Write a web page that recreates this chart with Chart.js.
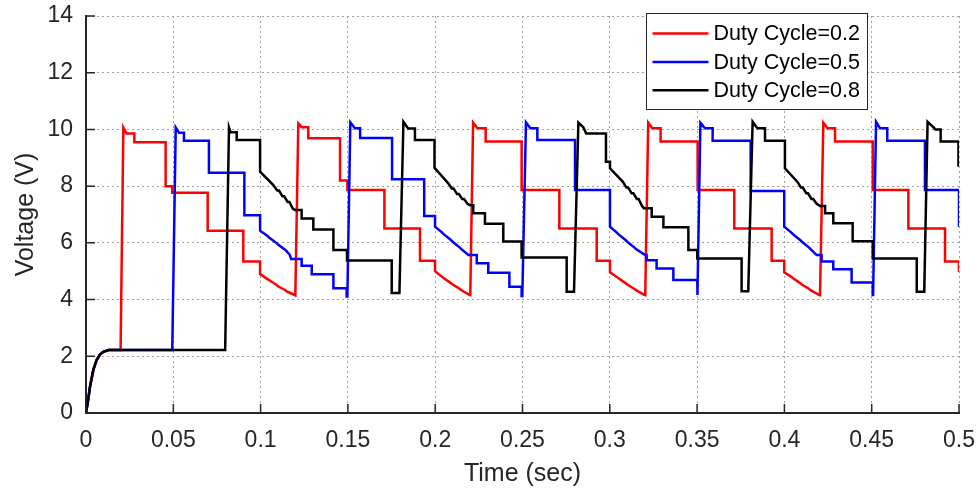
<!DOCTYPE html>
<html>
<head>
<meta charset="utf-8">
<script src="https://cdn.jsdelivr.net/npm/chart.js@4.4.1/dist/chart.umd.min.js"></script>
<style>
  html, body { margin: 0; padding: 0; background: #fff; }
  canvas { display: block; }
</style>
</head>
<body>
<canvas id="myChart" width="977" height="493"></canvas>
<script>
// axes
const xTicks = [0, 0.05, 0.1, 0.15, 0.2, 0.25, 0.3, 0.35, 0.4, 0.45, 0.5];
const yTicks = [0, 2, 4, 6, 8, 10, 12, 14];
const seriesLabels = ['Duty Cycle=0.2', 'Duty Cycle=0.5', 'Duty Cycle=0.8'];
const seriesColors = ['#ff0000', '#0000ff', '#000000'];

// common start-up charge (time s, voltage V)
const startUp = [[0,0],[0.0012,0.45],[0.0023,0.93],[0.0042,1.52],[0.0061,1.87],[0.008,2.06],[0.0099,2.16],[0.013,2.22]];

// duty cycle 0.2
const duty02 = [
  [0.0198,2.22],[0.0214,10.07],[0.0232,9.86],[0.0277,9.86],[0.0277,9.55],[0.0456,9.55],[0.0456,8.0],[0.0494,8.0],[0.0494,7.77],
  [0.0697,7.77],[0.0697,6.43],[0.0901,6.43],[0.0901,5.34],[0.0997,5.34],[0.0997,4.9],
  [0.104,4.72],[0.105,4.68],[0.109,4.52],[0.110,4.47],[0.114,4.34],[0.115,4.29],[0.1192,4.17],
  [0.1199,4.15],[0.1216,10.21],[0.1235,10.08],[0.1273,10.08],[0.1273,9.69],[0.1455,9.69],[0.1455,8.2],[0.1497,8.2],[0.1497,7.86],
  [0.1709,7.86],[0.1709,6.51],[0.1913,6.51],[0.1913,5.37],[0.1999,5.37],[0.1999,5.0],
  [0.204,4.8],[0.205,4.75],[0.209,4.58],[0.210,4.53],[0.214,4.38],[0.215,4.33],[0.2196,4.17],
  [0.2201,4.16],[0.2217,10.24],[0.2242,10.04],[0.2289,10.04],[0.2289,9.57],[0.2495,9.57],[0.2495,7.86],[0.2711,7.86],[0.2711,6.51],
  [0.2925,6.51],[0.2925,5.37],[0.3001,5.37],[0.3001,4.96],
  [0.304,4.8],[0.305,4.75],[0.309,4.58],[0.310,4.53],[0.314,4.38],[0.315,4.33],[0.3197,4.17],
  [0.3203,4.16],[0.322,10.24],[0.3243,10.04],[0.3291,10.04],[0.3291,9.57],[0.3503,9.57],[0.3503,7.86],[0.3713,7.86],[0.3713,6.51],
  [0.3927,6.51],[0.3927,5.37],[0.3999,5.37],[0.3999,4.96],
  [0.404,4.8],[0.405,4.75],[0.409,4.58],[0.410,4.53],[0.414,4.38],[0.415,4.33],[0.4198,4.17],
  [0.4204,4.16],[0.4223,10.24],[0.4247,10.04],[0.429,10.04],[0.429,9.57],[0.4506,9.57],[0.4506,7.86],[0.471,7.86],[0.471,6.51],
  [0.492,6.51],[0.492,5.34],[0.5,5.34],[0.5,4.96]
];

// duty cycle 0.5
const duty05 = [
  [0.0494,2.22],[0.0514,10.07],[0.0533,9.88],[0.0561,9.88],[0.0561,9.6],[0.0704,9.6],[0.0704,8.47],[0.0907,8.47],[0.0907,6.97],
  [0.0997,6.97],[0.0997,6.43],
  [0.104,6.24],[0.105,6.18],[0.109,6.0],[0.110,5.94],[0.114,5.76],[0.115,5.7],[0.1168,5.57],[0.1175,5.43],[0.1235,5.43],
  [0.1235,5.19],[0.1293,5.19],[0.1293,4.89],[0.1417,4.89],[0.1417,4.40],[0.1493,4.40],[0.1493,4.11],[0.1497,4.11],
  [0.1514,10.25],[0.154,10.04],[0.157,10.04],[0.157,9.7],[0.1753,9.7],[0.1753,8.24],[0.1937,8.24],[0.1937,6.95],[0.1999,6.95],[0.1999,6.57],
  [0.204,6.36],[0.205,6.3],[0.209,6.1],[0.210,6.04],[0.214,5.84],[0.215,5.78],[0.219,5.57],[0.2238,5.57],[0.2238,5.28],
  [0.2304,5.28],[0.2304,4.95],[0.2425,4.95],[0.2425,4.45],[0.2495,4.45],[0.2495,4.13],[0.2499,4.13],
  [0.252,10.25],[0.2545,10.04],[0.2585,10.04],[0.2585,9.63],[0.2801,9.63],[0.2801,7.86],[0.3001,7.86],[0.3001,6.57],
  [0.304,6.36],[0.305,6.3],[0.309,6.1],[0.310,6.04],[0.314,5.84],[0.315,5.78],[0.3202,5.57],[0.3211,5.57],[0.3211,5.39],
  [0.3268,5.39],[0.3268,5.10],[0.3364,5.10],[0.3364,4.69],[0.3501,4.69],[0.3501,4.16],[0.3503,4.16],
  [0.3519,10.24],[0.3545,10.04],[0.3589,10.04],[0.3589,9.6],[0.3807,9.6],[0.3807,7.83],[0.3999,7.83],[0.3999,6.57],
  [0.404,6.36],[0.405,6.3],[0.409,6.1],[0.410,6.04],[0.414,5.84],[0.415,5.78],[0.4185,5.57],[0.4213,5.57],[0.4213,5.34],
  [0.428,5.34],[0.428,5.07],[0.4385,5.07],[0.4385,4.6],[0.4506,4.6],[0.4506,4.16],[0.4508,4.16],
  [0.4525,10.27],[0.4548,10.04],[0.4589,10.04],[0.4589,9.6],[0.4805,9.6],[0.4805,7.86],[0.5,7.86],[0.5,6.57]
];

// duty cycle 0.8
const duty08 = [
  [0.0797,2.22],[0.0819,10.07],[0.0828,9.9],[0.0863,9.9],[0.0863,9.63],[0.0997,9.63],[0.0997,8.51],
  [0.1073,8.04],[0.1095,7.85],[0.1105,7.85],[0.1125,7.64],[0.1135,7.64],[0.1155,7.44],[0.1165,7.44],[0.1185,7.2],[0.1197,7.16],
  [0.1235,7.16],[0.1235,6.86],[0.1302,6.86],[0.1302,6.47],[0.1417,6.47],[0.1417,5.75],[0.1495,5.75],[0.1495,5.38],
  [0.1751,5.38],[0.1751,4.23],[0.1795,4.23],
  [0.1818,10.27],[0.1845,10.03],[0.1884,10.03],[0.1884,9.63],[0.1996,9.63],[0.1996,8.65],
  [0.2075,8.1],[0.2095,7.92],[0.2105,7.92],[0.2125,7.72],[0.2135,7.72],[0.2155,7.55],[0.2165,7.55],[0.2185,7.38],[0.2199,7.33],
  [0.2218,7.33],[0.2218,7.04],[0.2285,7.04],[0.2285,6.67],[0.239,6.67],[0.239,6.05],[0.2495,6.05],[0.2495,5.48],
  [0.2753,5.48],[0.2753,4.28],[0.2795,4.28],
  [0.282,10.24],[0.2848,10.08],[0.2865,9.86],[0.2978,9.86],[0.2978,8.86],[0.3001,8.86],[0.3001,8.63],
  [0.3075,8.15],[0.3095,7.95],[0.3105,7.95],[0.3125,7.75],[0.3135,7.75],[0.3155,7.55],[0.3165,7.55],[0.3185,7.3],[0.3195,7.22],
  [0.324,7.22],[0.324,6.92],[0.3307,6.92],[0.3307,6.55],[0.345,6.55],[0.345,5.75],[0.3501,5.75],[0.3501,5.45],
  [0.3755,5.45],[0.3755,4.29],[0.3793,4.29],
  [0.3818,10.27],[0.3845,10.04],[0.3889,10.04],[0.3889,9.6],[0.4003,9.6],[0.4003,8.63],
  [0.4075,8.15],[0.4095,7.95],[0.4105,7.95],[0.4125,7.75],[0.4135,7.75],[0.4155,7.55],[0.4165,7.55],[0.4185,7.38],[0.4204,7.30],
  [0.4233,7.30],[0.4233,7.04],[0.428,7.04],[0.428,6.69],[0.4391,6.69],[0.4391,6.06],[0.4506,6.06],[0.4506,5.45],
  [0.4758,5.45],[0.4758,4.28],[0.4801,4.28],
  [0.482,10.27],[0.485,10.1],[0.4865,10.0],[0.4895,10.0],[0.4895,9.57],[0.4997,9.57],[0.4997,8.68]
];

const textColor = '#262626';
Chart.defaults.font.family = '"Liberation Sans", Arial, Helvetica, sans-serif';
Chart.defaults.color = textColor;

const toXY = pts => startUp.concat(pts).map(p => ({ x: p[0], y: p[1] }));

// ticks pointing inwards + boxed legend inside the plot, MATLAB style
const matlabDecor = {
  id: 'matlabDecor',
  afterDraw(chart) {
    const { ctx, chartArea: area, scales } = chart;
    ctx.save();
    ctx.strokeStyle = textColor;
    ctx.lineWidth = 1.5;
    ctx.beginPath();
    xTicks.forEach(v => {
      const px = scales.x.getPixelForValue(v);
      ctx.moveTo(px, area.bottom);
      ctx.lineTo(px, area.bottom - 9);
    });
    yTicks.forEach(v => {
      const py = scales.y.getPixelForValue(v);
      ctx.moveTo(area.left, py);
      ctx.lineTo(area.left + 9, py);
    });
    ctx.stroke();

    // legend
    const bx = 646.5, by = 13.5, bw = 221, bh = 96;
    ctx.fillStyle = '#fff';
    ctx.fillRect(bx, by, bw, bh);
    ctx.lineWidth = 1;
    ctx.strokeStyle = textColor;
    ctx.strokeRect(bx, by, bw, bh);
    ctx.font = '21.5px "Liberation Sans", Arial, sans-serif';
    ctx.textBaseline = 'middle';
    ctx.textAlign = 'left';
    seriesLabels.forEach((lab, i) => {
      const ry = by + 20 + i * 28.4;
      ctx.strokeStyle = seriesColors[i];
      ctx.lineWidth = 2.5;
      ctx.beginPath();
      ctx.moveTo(bx + 6, ry);
      ctx.lineTo(bx + 62, ry);
      ctx.stroke();
      ctx.fillStyle = '#000';
      ctx.fillText(lab, bx + 67, ry + 1);
    });
    ctx.restore();
  }
};

const ctx = document.getElementById('myChart');
new Chart(ctx, {
  type: 'line',
  data: {
    datasets: [
      { label: seriesLabels[0], data: toXY(duty02), borderColor: seriesColors[0], order: 3 },
      { label: seriesLabels[1], data: toXY(duty05), borderColor: seriesColors[1], order: 2 },
      { label: seriesLabels[2], data: toXY(duty08), borderColor: seriesColors[2], order: 1 }
    ]
  },
  options: {
    responsive: false,
    animation: false,
    devicePixelRatio: 1,
    layout: { padding: { left: 0, right: 18, top: 16, bottom: 0 } },
    elements: {
      point: { radius: 0 },
      line: { borderWidth: 2.5, tension: 0, fill: false }
    },
    plugins: {
      legend: { display: false },
      tooltip: { enabled: false }
    },
    scales: {
      x: {
        type: 'linear',
        min: 0,
        max: 0.5,
        afterBuildTicks: s => { s.ticks = xTicks.map(v => ({ value: v })); },
        afterFit: s => { s.height = 80; s.paddingLeft = 0; s.paddingRight = 0; },
        ticks: { callback: v => String(v), font: { size: 23 }, color: textColor, padding: 14, maxRotation: 0, autoSkip: false },
        grid: { color: '#a0a0a0', lineWidth: 1, drawTicks: false },
        border: { display: true, color: textColor, width: 2, dash: [2, 3] },
        title: { display: true, text: 'Time (sec)', font: { size: 25 }, color: textColor, padding: { top: 0, bottom: 4 } }
      },
      y: {
        min: 0,
        max: 14,
        afterBuildTicks: s => { s.ticks = yTicks.map(v => ({ value: v })); },
        afterFit: s => { s.width = 86; s.paddingTop = 0; s.paddingBottom = 0; },
        ticks: { font: { size: 23 }, color: textColor, padding: 13 },
        grid: { color: '#a0a0a0', lineWidth: 1, drawTicks: false },
        border: { display: true, color: textColor, width: 2, dash: [2, 3] },
        title: { display: true, text: 'Voltage (V)', font: { size: 25 }, color: textColor, padding: { top: 11, bottom: 0 } }
      }
    }
  },
  plugins: [matlabDecor]
});
</script>
</body>
</html>
